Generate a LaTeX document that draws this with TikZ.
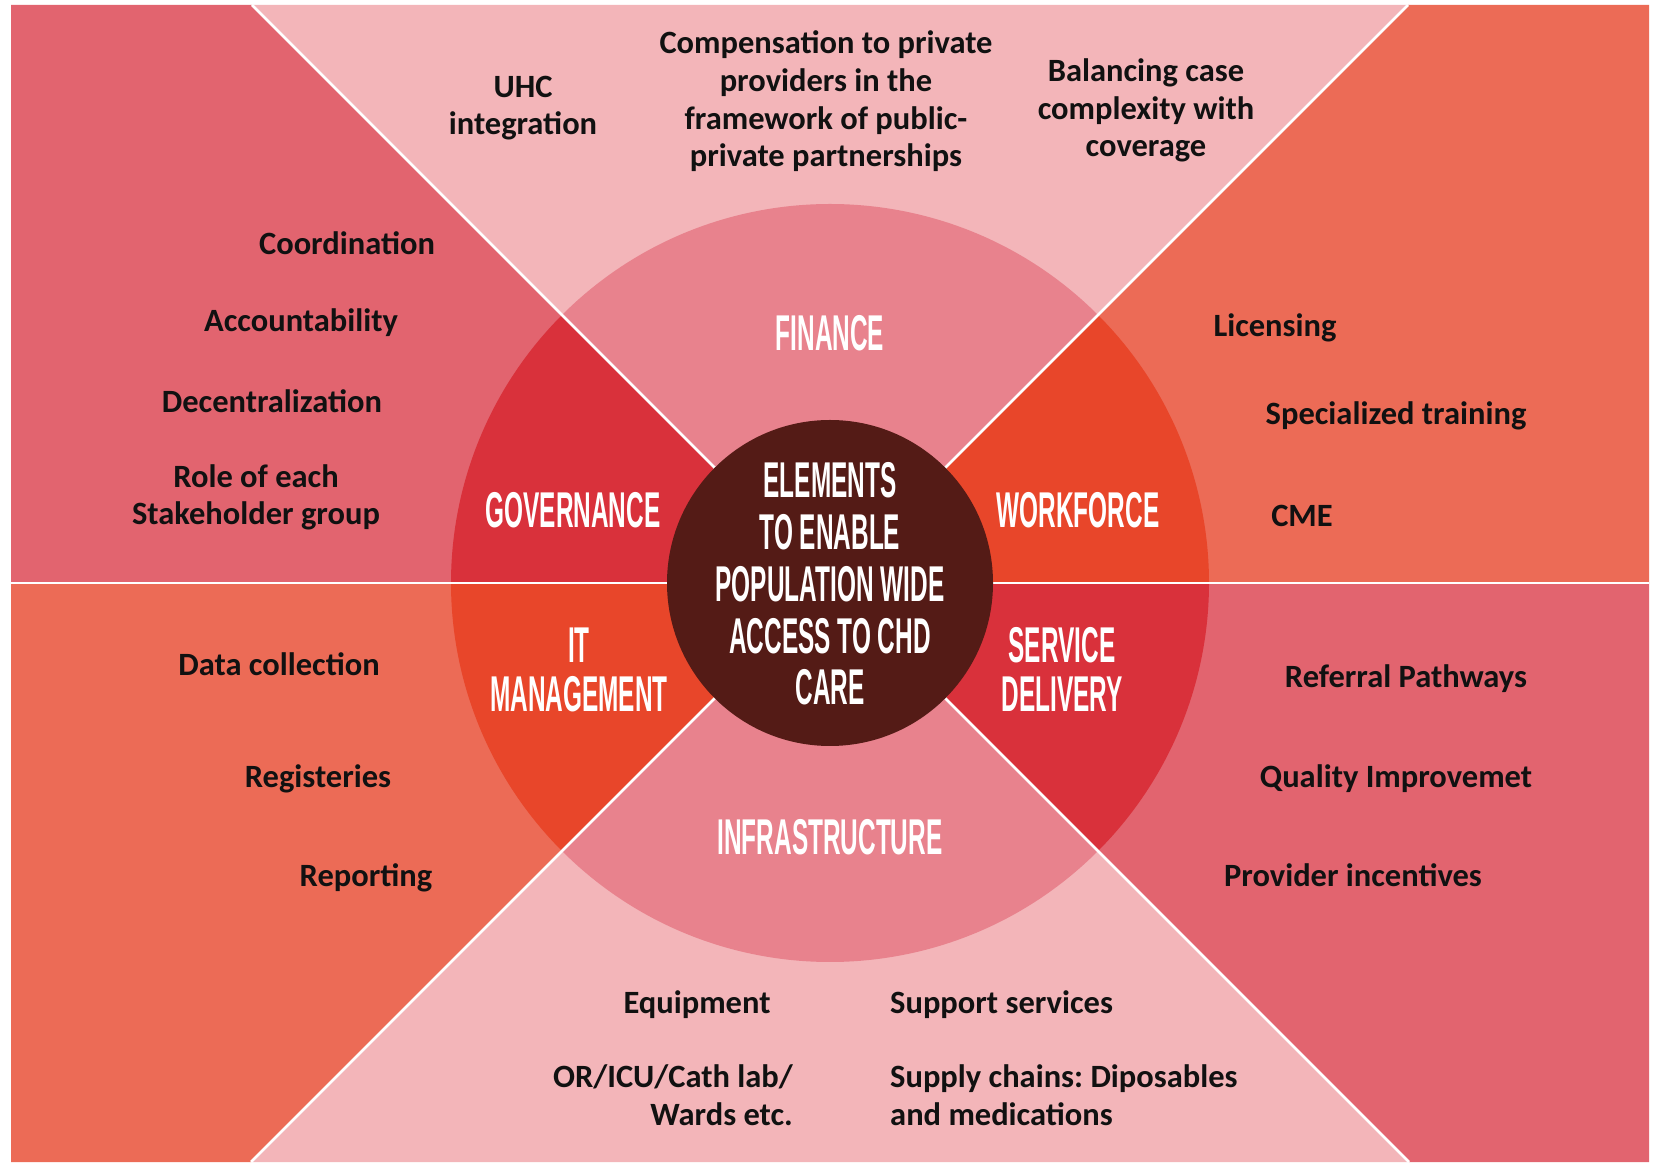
\documentclass[tikz,border=0pt]{standalone}
\usepackage{fontspec}
\usepackage{graphicx}
\newfontfamily\bodyfont{Carlito}
\newfontfamily\headfont{Liberation Sans}
\definecolor{lpink}{HTML}{F3B5B9}
\definecolor{rosered}{HTML}{E2646F}
\definecolor{coral}{HTML}{EC6B56}
\definecolor{ringpink}{HTML}{E8828D}
\definecolor{ringred}{HTML}{D9313B}
\definecolor{ringorange}{HTML}{E8462A}
\definecolor{core}{HTML}{541B16}
\definecolor{ink}{HTML}{111111}
\newcommand\hd[1]{\scalebox{0.485}[1]{#1}}
\frenchspacing
\begin{document}
\begin{tikzpicture}[x=1pt,y=1pt,
  body/.style={font=\bodyfont\bfseries\fontsize{32.5}{37.7}\selectfont\frenchspacing, text=ink, inner sep=0pt, anchor=base, align=center},
  head/.style={font=\headfont\bfseries\fontsize{50.3}{49}\selectfont, text=white, inner sep=0pt, anchor=base, align=center},
  corehead/.style={head, font=\headfont\bfseries\fontsize{50.3}{51.75}\selectfont},
  divider/.style={draw=white, line width=2.6pt}]
\useasboundingbox (0,0) rectangle (1656,1162);
\fill[white] (0,0) rectangle (1656,1162);
\coordinate (C) at (830,579);
\coordinate (TL) at (252,1157);
\coordinate (TR) at (1408,1157);
\coordinate (BL) at (251,0);
\coordinate (BR) at (1409,0);
\coordinate (ML) at (11,579);
\coordinate (MR) at (1649,579);
% outer regions
\fill[lpink] (TL) -- (TR) -- (C) -- cycle;
\fill[rosered] (11,1157) -- (TL) -- (C) -- (ML) -- cycle;
\fill[coral] (TR) -- (1649,1157) -- (MR) -- (C) -- cycle;
\fill[coral] (ML) -- (C) -- (BL) -- (11,0) -- cycle;
\fill[rosered] (C) -- (MR) -- (1649,0) -- (BR) -- cycle;
\fill[lpink] (BL) -- (BR) -- (C) -- cycle;
% ring sectors
\fill[ringpink] (C) -- ++(45:379) arc[start angle=45, end angle=135, radius=379] -- cycle;
\fill[ringred] (C) -- ++(135:379) arc[start angle=135, end angle=180, radius=379] -- cycle;
\fill[ringorange] (C) -- ++(180:379) arc[start angle=180, end angle=225, radius=379] -- cycle;
\fill[ringpink] (C) -- ++(225:379) arc[start angle=225, end angle=315, radius=379] -- cycle;
\fill[ringred] (C) -- ++(315:379) arc[start angle=315, end angle=360, radius=379] -- cycle;
\fill[ringorange] (C) -- ++(0:379) arc[start angle=0, end angle=45, radius=379] -- cycle;
% dividers
\draw[divider] (TL) -- (BR);
\draw[divider] (BL) -- (TR);
\draw[divider] (ML) -- (MR);
% core
\fill[core] (C) circle[radius=163];
\node[corehead] (core) at (830,457) {\hd{ELEMENTS}\\\hd{TO ENABLE}\\\hd{POPULATION WIDE}\\\hd{ACCESS TO CHD}\\\hd{CARE}};
% ring labels
\node[head] (fin) at (830,811) {\hd{FINANCE}};
\node[head] (gov) at (573,634) {\hd{GOVERNANCE}};
\node[head] (wf) at (1078,634) {\hd{WORKFORCE}};
\node[head] (it) at (579,450) {\hd{IT}\\\hd{MANAGEMENT}};
\node[head] (sd) at (1062,450) {\hd{SERVICE}\\\hd{DELIVERY}};
\node[head] (inf) at (830,307) {\hd{INFRASTRUCTURE}};
% finance texts
\node[body] (uhc) at (523,1027) {UHC\\integration};
\node[body] (comp) at (826,995) {Compensation to private\\providers in the\\framework of public-\\private partnerships};
\node[body] (bal) at (1146,1005) {Balancing case\\complexity with\\coverage};
% governance texts
\node[body] (coord) at (347,907) {Coordination};
\node[body] (acc) at (301,830) {Accountability};
\node[body] (dec) at (272,749) {Decentralization};
\node[body] (role) at (256,637) {Role of each\\Stakeholder group};
% workforce texts
\node[body] (lic) at (1275,825) {Licensing};
\node[body] (spec) at (1396,737) {Specialized training};
\node[body] (cme) at (1302,635) {CME};
% IT texts
\node[body] (data) at (279,486) {Data collection};
\node[body] (reg) at (318,374) {Registeries};
\node[body] (rep) at (366,275) {Reporting};
% service delivery texts
\node[body] (ref) at (1406,474) {Referral Pathways};
\node[body] (qual) at (1396,374) {Quality Improvemet};
\node[body] (prov) at (1353,275) {Provider incentives};
% infrastructure texts
\node[body] (equip) at (697,149) {Equipment};
\node[body, anchor=base west] (supp) at (890,149) {Support services};
\node[body, anchor=base east, align=right] (or) at (793,37) {OR/ICU/Cath lab/\\Wards etc.};
\node[body, anchor=base west, align=left] (supply) at (890,37) {Supply chains: Diposables\\and medications};
\end{tikzpicture}
\end{document}
